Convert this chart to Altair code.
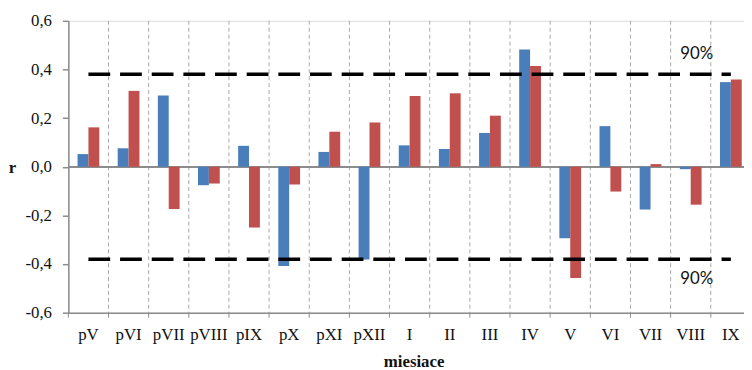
import altair as alt
import pandas as pd

categories = ["pV", "pVI", "pVII", "pVIII", "pIX", "pX", "pXI", "pXII",
              "I", "II", "III", "IV", "V", "VI", "VII", "VIII", "IX"]
series_blue = [0.052, 0.076, 0.293, -0.076, 0.086, -0.408, 0.061, -0.381,
               0.088, 0.073, 0.139, 0.482, -0.294, 0.167, -0.176, -0.010, 0.348]
series_red = [0.162, 0.312, -0.174, -0.069, -0.250, -0.073, 0.144, 0.182,
              0.291, 0.302, 0.210, 0.414, -0.457, -0.102, 0.011, -0.156, 0.359]
threshold = 0.38
y_ticks = [-0.6, -0.4, -0.2, 0.0, 0.2, 0.4, 0.6]
label_text = "90%"

series_names = ["a", "b"]
bars = pd.DataFrame({
    "cat": categories * 2,
    "series": [series_names[0]] * len(categories) + [series_names[1]] * len(categories),
    "value": series_blue + series_red,
})
thr = pd.DataFrame({
    "cat": categories * 2,
    "line": ["up"] * len(categories) + ["down"] * len(categories),
    "value": [threshold] * len(categories) + [-threshold] * len(categories),
})
grid = pd.DataFrame({"cat": categories[1:]})
ticks = pd.DataFrame({"cat": categories})
labels = pd.DataFrame({"cat": ["VIII", "VIII"], "value": [0.465, -0.46], "t": [label_text, label_text]})

W = 683
H = 295
GRAY = "#8c8c8c"

xscale = alt.Scale(domain=categories, range=[0, 690], paddingInner=0.458, paddingOuter=0.229)
xstep = alt.Scale(domain=categories, range=[0, 690], paddingInner=0, paddingOuter=0)
yscale = alt.Scale(domain=[-0.6, 0.6], nice=False, zero=False)

grid_layer = alt.Chart(grid).mark_rule(color="#a8a8a8", strokeDash=[4, 3], strokeWidth=1).encode(
    x=alt.X("cat:N", bandPosition=0, scale=xstep, axis=None),
    y=alt.value(0), y2=alt.value(H),
)
tick_layer = alt.Chart(ticks).mark_rule(color=GRAY, strokeWidth=1).encode(
    x=alt.X("cat:N", bandPosition=0, scale=xstep, axis=None),
    y=alt.value(H), y2=alt.value(H + 5),
)
zero_layer = alt.Chart(ticks).mark_rule(color=GRAY, strokeWidth=1.5).encode(
    y=alt.Y("z:Q", scale=yscale, axis=None), x=alt.value(0), x2=alt.value(W),
).transform_calculate(z="0")

bar_layer = alt.Chart(bars).mark_bar().encode(
    x=alt.X("cat:N", scale=xscale,
            axis=alt.Axis(orient="bottom", ticks=False, domainColor=GRAY, domainWidth=1.5,
                          labelFont="Liberation Serif", labelFontSize=17, labelColor="#111",
                          labelAngle=0, labelPadding=14.5, labelBaseline="top",
                          title="miesiace", titleFont="Liberation Serif", titleFontSize=17,
                          titleFontWeight="bold", titleColor="#111", titleY=54,
                          titleBaseline="alphabetic", titleX=349)),
    xOffset=alt.XOffset("series:N", sort=series_names),
    y=alt.Y("value:Q", scale=yscale,
            axis=alt.Axis(values=y_ticks, grid=False, tickSize=6, tickColor=GRAY, tickWidth=1.5,
                          domainColor=GRAY, domainWidth=1.5,
                          labelExpr="replace(replace(format(datum.value, '.1f'), '.', ','), '\u2212', '-')",
                          labelFont="Liberation Serif", labelFontSize=17, labelColor="#111",
                          labelPadding=11,
                          title="r", titleAngle=0, titleFont="Liberation Serif", titleFontSize=17,
                          titleFontWeight="bold", titleColor="#111", titleX=-57, titleY=148,
                          titleBaseline="middle", titleAlign="center")),
    color=alt.Color("series:N", scale=alt.Scale(domain=series_names, range=["#4a7ebb", "#c0504d"]),
                    legend=None),
)

thr_layer = alt.Chart(thr).mark_line(color="black", strokeWidth=3.5, strokeDash=[22, 10]).encode(
    x=alt.X("cat:N", scale=xscale, axis=None),
    y=alt.Y("value:Q", scale=yscale, axis=None),
    detail="line:N",
)

text_layer = alt.Chart(labels).mark_text(font="Lato", fontSize=17, color="#111", dx=6).encode(
    x=alt.X("cat:N", scale=xscale, axis=None),
    y=alt.Y("value:Q", scale=yscale, axis=None),
    text="t:N",
)

chart = alt.layer(grid_layer, tick_layer, zero_layer, bar_layer, thr_layer, text_layer).resolve_scale(
    x="independent", y="independent"
).properties(
    width=W, height=H,
    autosize=alt.AutoSizeParams(type="none"),
    padding={"left": 61, "top": 11, "right": 0, "bottom": 57},
).configure_view(stroke=None).configure(background="white")

chart.save("out.html", embed_options={"renderer": "svg", "actions": False})
